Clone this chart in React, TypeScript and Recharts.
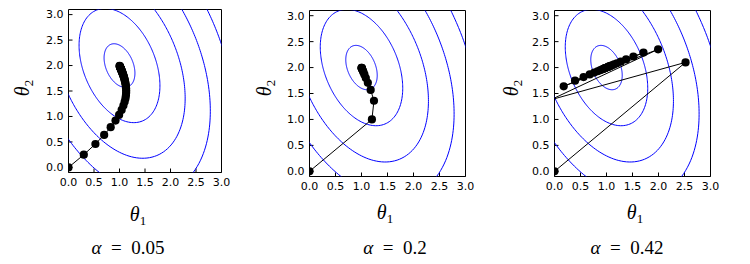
import React from 'react'
import { ScatterChart, Scatter, XAxis, YAxis } from 'recharts'

// bowl: f = a(x-1)^2 + b(x-1)(y-2) + c(y-2)^2
const minimum = [1, 2]
const bowl = [2, 1, 1]
const contourLevels = [0.16, 1.1, 2.9, 5.55, 9.0]

const axisTicks = [0, 0.5, 1, 1.5, 2, 2.5, 3]
const alphas = ['0.05', '0.2', '0.42']

// gradient descent iterates
const pathSlow = [
  [0, 0], [0.3, 0.25], [0.528, 0.46], [0.699, 0.638], [0.827, 0.789], [0.922, 0.919],
  [0.992, 1.031], [1.042, 1.128], [1.077, 1.213], [1.101, 1.288], [1.117, 1.354],
  [1.126, 1.413], [1.13, 1.465], [1.131, 1.512], [1.129, 1.554], [1.125, 1.593],
  [1.121, 1.627], [1.115, 1.658], [1.109, 1.687], [1.103, 1.713], [1.097, 1.736],
  [1.091, 1.758], [1.085, 1.777], [1.079, 1.795], [1.073, 1.812], [1.068, 1.827],
  [1.063, 1.841], [1.058, 1.854], [1.054, 1.865], [1.05, 1.876], [1.046, 1.886],
  [1.042, 1.895], [1.039, 1.903], [1.036, 1.911], [1.033, 1.918], [1.031, 1.925],
  [1.028, 1.931], [1.026, 1.936], [1.024, 1.941], [1.022, 1.946], [1.02, 1.95],
  [1.017, 1.958], [1.014, 1.964], [1.011, 1.972], [1.009, 1.978], [1.006, 1.986],
  [1.004, 1.991], [1.002, 1.996],
]
const pathMid = [
  [0, 0], [1.2, 1.0], [1.24, 1.36], [1.176, 1.568], [1.122, 1.706], [1.083, 1.799],
  [1.057, 1.863], [1.039, 1.906], [1.027, 1.936], [1.018, 1.956], [1.012, 1.97],
  [1.008, 1.98], [1.006, 1.986], [1.004, 1.99], [1.003, 1.994], [1.002, 1.996],
]
const pathFast = [
  [0, 0], [2.52, 2.1], [-0.076, 1.378], [1.993, 2.352], [0.177, 1.639], [1.711, 2.288],
  [0.395, 1.747], [1.517, 2.213], [0.559, 1.817], [1.377, 2.156], [0.678, 1.867],
  [1.275, 2.114], [0.765, 1.903], [1.2, 2.083], [0.829, 1.929], [1.146, 2.061],
  [0.875, 1.948], [1.107, 2.044], [0.909, 1.962], [1.078, 2.032], [0.934, 1.972],
  [1.057, 2.023], [0.952, 1.98], [1.041, 2.017], [0.965, 1.985], [1.03, 2.012],
  [0.974, 1.989], [1.022, 2.009], [0.981, 1.992],
]

const panels = [
  { path: pathSlow, svgLeft: 8, plotLeft: 68.5, plotTop: 9.5, plotW: 153, plotH: 163, theta1X: 138, theta1Y: 221, theta2X: 29, capX: 128 },
  { path: pathMid, svgLeft: 250, plotLeft: 309.5, plotTop: 10.5, plotW: 156, plotH: 166, theta1X: 385, theta1Y: 219, theta2X: 271, capX: 395 },
  { path: pathFast, svgLeft: 495, plotLeft: 554.5, plotTop: 10.5, plotW: 156, plotH: 166, theta1X: 635, theta1Y: 219, theta2X: 518, capX: 627 },
]

function contour(level: number) {
  const pts = []
  for (let i = 0; i <= 240; i++) {
    const t = (i / 240) * 2 * Math.PI
    const c = Math.cos(t)
    const s = Math.sin(t)
    const r = Math.sqrt(level / (bowl[0] * c * c + bowl[1] * c * s + bowl[2] * s * s))
    pts.push({ x: minimum[0] + r * c, y: minimum[1] + r * s })
  }
  return pts
}

const tickFont = { fontSize: 11, fill: '#000', fontFamily: 'DejaVu Sans' }
const fmt = (v: number) => v.toFixed(1)

function Panel({ cfg }: { cfg: (typeof panels)[number] }) {
  const { svgLeft, plotLeft, plotTop, plotW, plotH, path } = cfg
  const yAxisW = 50
  const xAxisH = 20
  const width = plotLeft - svgLeft + plotW + 15
  const height = plotTop + plotH + xAxisH
  const points = path.map(([x, y]) => ({ x, y }))
  return (
    <div style={{ position: 'absolute', left: svgLeft, top: 0 }}>
      <ScatterChart
        width={width}
        height={height}
        margin={{ top: plotTop - 1, left: plotLeft - svgLeft - yAxisW, right: 14, bottom: 0 }}
      >
        <XAxis
          type="number"
          dataKey="x"
          domain={[0, 3]}
          ticks={axisTicks}
          interval={0}
          allowDataOverflow
          height={xAxisH}
          tickSize={-4}
          tickMargin={10}
          tick={tickFont}
          tickFormatter={fmt}
          axisLine={{ stroke: '#000' }}
          tickLine={{ stroke: '#000' }}
        />
        <YAxis
          type="number"
          dataKey="y"
          domain={[-0.1, 3.1]}
          ticks={axisTicks}
          interval={0}
          allowDataOverflow
          width={yAxisW}
          tickSize={-4}
          tickMargin={9}
          tick={tickFont}
          tickFormatter={fmt}
          axisLine={{ stroke: '#000' }}
          tickLine={{ stroke: '#000' }}
        />
        <XAxis
          xAxisId="top"
          orientation="top"
          type="number"
          domain={[0, 3]}
          ticks={axisTicks}
          interval={0}
          allowDataOverflow
          height={1}
          tickSize={-4}
          tick={false}
          axisLine={{ stroke: '#000' }}
          tickLine={{ stroke: '#000' }}
        />
        <YAxis
          yAxisId="right"
          orientation="right"
          type="number"
          domain={[-0.1, 3.1]}
          ticks={axisTicks}
          interval={0}
          allowDataOverflow
          width={1}
          tickSize={-4}
          tick={false}
          axisLine={{ stroke: '#000' }}
          tickLine={{ stroke: '#000' }}
        />
        {contourLevels.map((lv) => (
          <Scatter
            key={lv}
            data={contour(lv)}
            line={{ stroke: '#0000ff', strokeWidth: 1 }}
            lineType="joint"
            shape={() => <g />}
            isAnimationActive={false}
          />
        ))}
        <Scatter
          data={points}
          line={{ stroke: '#000', strokeWidth: 1 }}
          lineType="joint"
          shape={(p: any) => <circle cx={p.cx} cy={p.cy} r={4.1} fill="#000" />}
          isAnimationActive={false}
        />
      </ScatterChart>
    </div>
  )
}

export default function App() {
  const serif = 'Liberation Serif'
  const gap = '\u2002'
  return (
    <div style={{ position: 'absolute', left: 0, top: 0, width: 750, height: 264, background: '#fff' }}>
      {panels.map((p, i) => (
        <Panel key={i} cfg={p} />
      ))}
      <svg width={750} height={264} style={{ position: 'absolute', left: 0, top: 0, pointerEvents: 'none' }}>
        {panels.map((p, i) => (
          <g key={i} fontFamily={serif} fill="#000">
            <text x={p.theta1X} y={p.theta1Y} textAnchor="middle" fontSize={20}>
              <tspan fontStyle="italic">θ</tspan>
              <tspan fontSize={13} dy={4}>1</tspan>
            </text>
            <text transform={`translate(${p.theta2X},88) rotate(-90)`} textAnchor="middle" fontSize={20}>
              <tspan fontStyle="italic">θ</tspan>
              <tspan fontSize={13} dy={4}>2</tspan>
            </text>
            <text x={p.capX} y={254} textAnchor="middle" fontSize={19}>
              <tspan fontStyle="italic">α</tspan>
              {`${gap}=${gap}${alphas[i]}`}
            </text>
          </g>
        ))}
      </svg>
    </div>
  )
}
